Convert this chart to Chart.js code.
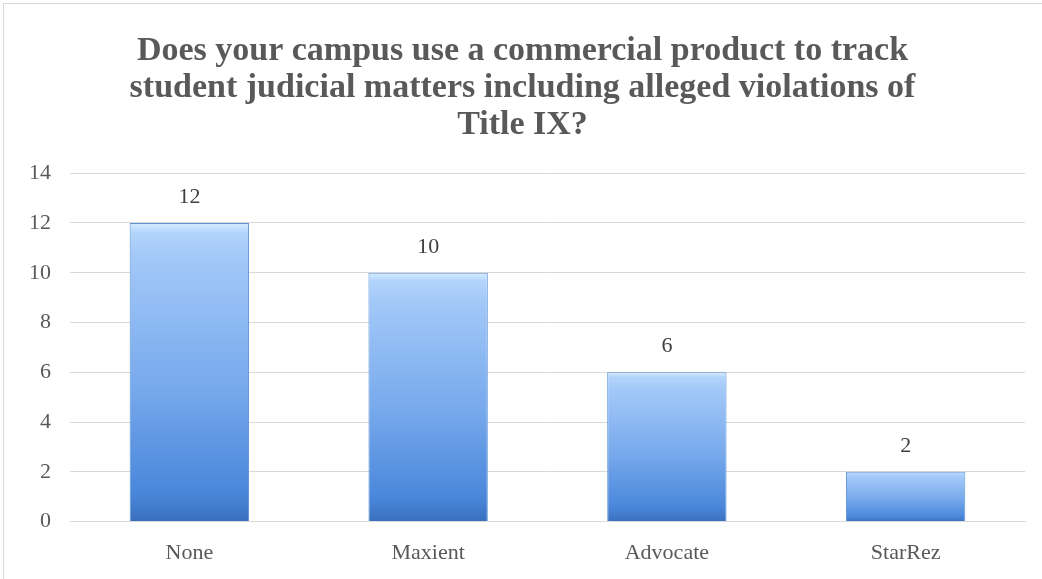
<!DOCTYPE html>
<html>
<head>
<meta charset="utf-8">
<script src="https://cdn.jsdelivr.net/npm/chart.js@4"></script>
<style>
  html, body { margin: 0; padding: 0; background: #fff; }
  #wrap { position: relative; width: 1042px; height: 579px; }
  #frame { position: absolute; left: 3px; top: 3px; width: 1045px; height: 590px; border: 1px solid #d9d9d9; box-sizing: border-box; }
</style>
</head>
<body>
<div id="wrap">
  <div id="frame"></div>
  <canvas id="surveyChart" width="1042" height="579"></canvas>
</div>
<script>
const categories = ['None', 'Maxient', 'Advocate', 'StarRez'];
const counts = [12, 10, 6, 2];
const yTicks = [0, 2, 4, 6, 8, 10, 12, 14];
const titleLines = [
    'Does your campus use a commercial product to track',
    'student judicial matters including alleged violations of',
    'Title IX?'
];

const serif = "'Liberation Serif', 'DejaVu Serif', serif";

// values above the bars
const valueLabels = {
    id: 'valueLabels',
    afterDatasetsDraw(chart) {
        const ctx = chart.ctx;
        const meta = chart.getDatasetMeta(0);
        ctx.save();
        ctx.font = '22px ' + serif;
        ctx.fillStyle = '#404040';
        ctx.textAlign = 'center';
        ctx.textBaseline = 'middle';
        meta.data.forEach((bar, i) => {
            ctx.fillText(counts[i], bar.x, bar.y - 26);
        });
        ctx.restore();
    }
};

// vertical gradient per bar, light at the top, darker at the base
function barFill(context) {
    const y = context.chart.scales.y;
    if (!y || context.raw == null) return '#6a9be0';
    const top = y.getPixelForValue(context.raw);
    const bottom = y.getPixelForValue(0);
    if (!isFinite(top) || !isFinite(bottom) || bottom - top < 1) return '#6a9be0';
    const g = context.chart.ctx.createLinearGradient(0, top, 0, bottom);
    g.addColorStop(0, '#d6ecff');
    g.addColorStop(0.035, '#b2d4fb');
    g.addColorStop(0.12, '#a2c8f8');
    g.addColorStop(0.55, '#77a9ec');
    g.addColorStop(0.9, '#4a87db');
    g.addColorStop(1, '#3a70bd');
    return g;
}

const ctx = document.getElementById('surveyChart').getContext('2d');
new Chart(ctx, {
    type: 'bar',
    data: {
        labels: categories,
        datasets: [{
            data: counts,
            backgroundColor: barFill,
            borderColor: '#5f93d6',
            borderWidth: 1,
            barPercentage: 0.5,
            categoryPercentage: 1.0
        }]
    },
    options: {
        responsive: false,
        animation: false,
        layout: { padding: { left: 20, right: 17, top: 18, bottom: 3 } },
        plugins: {
            legend: { display: false },
            tooltip: { enabled: false },
            title: {
                display: true,
                text: titleLines,
                color: '#595959',
                font: { family: serif, size: 34, weight: 'bold', lineHeight: 1.09 },
                padding: { top: 15, bottom: 29 }
            }
        },
        scales: {
            x: {
                grid: { display: false },
                border: { color: '#d9d9d9' },
                ticks: { color: '#595959', font: { family: serif, size: 22 }, padding: 10 }
            },
            y: {
                min: 0,
                max: 14,
                afterFit(scale) { scale.width = 50; },
                afterBuildTicks(scale) { scale.ticks = yTicks.map(v => ({ value: v })); },
                grid: { color: '#d9d9d9', drawTicks: false },
                border: { display: false },
                ticks: { color: '#595959', font: { family: serif, size: 22 }, padding: 19 }
            }
        }
    },
    plugins: [valueLabels]
});
</script>
</body>
</html>
